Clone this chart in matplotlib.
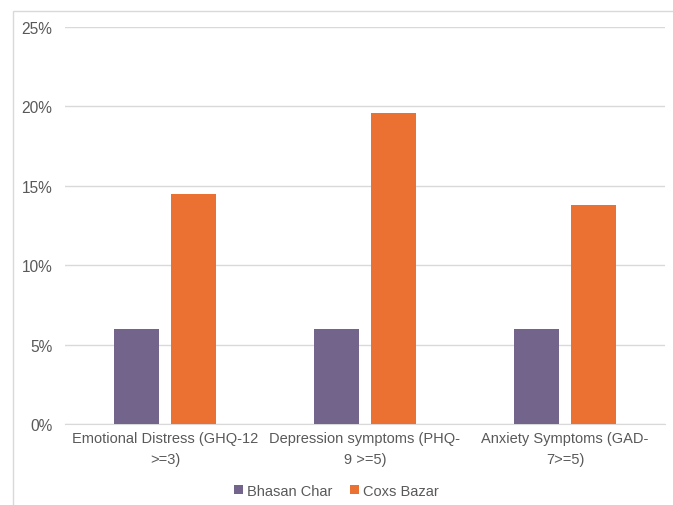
import matplotlib
matplotlib.use('Agg')
import matplotlib.pyplot as plt
import numpy as np
from matplotlib.patches import Rectangle

# data
categories = ['Emotional Distress (GHQ-12\n>=3)',
              'Depression symptoms (PHQ-\n9 >=5)',
              'Anxiety Symptoms (GAD-\n7>=5)']
bhasan_char = [6.0, 6.0, 6.0]
coxs_bazar = [14.5, 19.6, 13.8]
yticks = [0, 5, 10, 15, 20, 25]

plt.rcParams['font.family'] = ['Liberation Sans', 'DejaVu Sans']

fig = plt.figure(figsize=(6.73, 5.06), dpi=100)
ax = fig.add_axes([0.0966, 0.160, 0.8914, 0.7847])

# light frame round the chart, like an exported office chart
fig.patches.append(Rectangle((13/673, -0.05), 1.0, 1 - 12/506 + 0.05,
                             transform=fig.transFigure, fill=False,
                             edgecolor='#d9d9d9', linewidth=1.0))

x = np.arange(len(categories))
w = 0.225
gap = 0.06
ax.bar(x - (w + gap)/2, bhasan_char, w, color='#72648a', label='Bhasan Char', zorder=3)
ax.bar(x + (w + gap)/2, coxs_bazar, w, color='#eb7132', label='Coxs Bazar', zorder=3)

ax.set_xlim(-0.5, len(categories) - 0.5)
ax.set_ylim(0, 25)
ax.set_yticks(yticks)
ax.set_yticklabels([f'{t}%' for t in yticks])
ax.set_xticks(x)
ax.set_xticklabels(categories, linespacing=1.65)
ax.yaxis.grid(True, color='#d9d9d9', linewidth=1.0, zorder=0)
ax.tick_params(axis='both', length=0, labelcolor='#595959')
ax.tick_params(axis='y', pad=9, labelsize=11.2)
ax.tick_params(axis='x', pad=5, labelsize=10.5)
for s in ['top', 'right', 'left']:
    ax.spines[s].set_visible(False)
ax.spines['bottom'].set_color('#d9d9d9')

leg = fig.legend(loc='center', bbox_to_anchor=(0.5, 1 - 492/506), ncol=2,
                 frameon=False, fontsize=10.5, handlelength=0.6, handleheight=0.6,
                 handletextpad=0.3, columnspacing=1.2)
for t in leg.get_texts():
    t.set_color('#595959')

fig.savefig('out.png', dpi=100)
